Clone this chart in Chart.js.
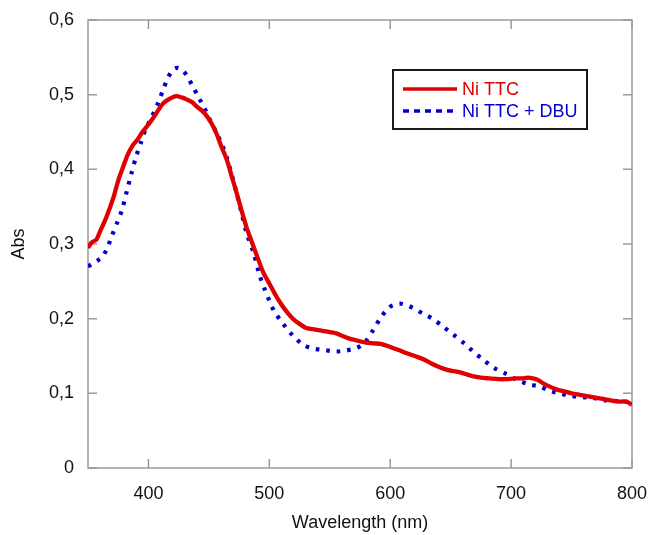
<!DOCTYPE html>
<html>
<head>
<meta charset="utf-8">
<script src="https://cdn.jsdelivr.net/npm/chart.js@4.4.1/dist/chart.umd.min.js"></script>
<style>
  html, body { margin: 0; padding: 0; background: #fff; }
  #wrap { width: 648px; height: 535px; }
</style>
</head>
<body>
<div id="wrap"><canvas id="chart" width="648" height="535"></canvas></div>
<script>
// Ni TTC
const wlRed = [350, 353, 357, 360, 365, 371, 375, 379, 383, 387, 391, 395, 400, 404, 408, 412, 417, 423, 428, 431,
  436, 440, 444, 448, 452, 456, 460, 465, 469, 473, 477, 481, 485, 490, 495, 500, 505, 510, 515, 520,
  525, 530, 536, 543, 550, 556, 560, 565, 572, 580, 586, 593, 600, 607, 613, 620, 627, 634, 641, 648,
  655, 662, 668, 675, 682, 690, 696, 703, 709, 714, 718, 722, 727, 732, 738, 743, 750, 757, 764, 771,
  778, 784, 791, 795, 800];
const absRed = [0.295, 0.302, 0.306, 0.317, 0.335, 0.362, 0.385, 0.403, 0.420, 0.432, 0.440, 0.450, 0.460, 0.469, 0.479, 0.488, 0.494, 0.498, 0.496, 0.494,
  0.490, 0.484, 0.479, 0.472, 0.462, 0.449, 0.432, 0.412, 0.390, 0.368, 0.345, 0.323, 0.305, 0.283, 0.262, 0.247, 0.232, 0.219, 0.208, 0.199,
  0.193, 0.188, 0.186, 0.184, 0.182, 0.180, 0.177, 0.174, 0.171, 0.168, 0.167, 0.166, 0.162, 0.158, 0.154, 0.150, 0.146, 0.140, 0.135, 0.131,
  0.129, 0.126, 0.123, 0.121, 0.120, 0.119, 0.119, 0.120, 0.120, 0.121, 0.120, 0.118, 0.113, 0.109, 0.105, 0.103, 0.100, 0.098, 0.096, 0.094,
  0.092, 0.090, 0.089, 0.089, 0.085];

// Ni TTC + DBU
const wlBlue = [350, 354, 358, 362, 366, 370, 374, 378, 382, 386, 390, 394, 398, 403, 408, 412, 416, 420, 424, 428,
  432, 436, 441, 446, 451, 456, 461, 465, 469, 473, 477, 481, 487, 492, 496, 500, 504, 511, 519, 528,
  536, 546, 554, 562, 571, 576, 580, 586, 592, 599, 604, 609, 614, 619, 628, 635, 644, 652, 662, 668,
  677, 686, 696, 705, 715, 724, 731, 740, 748, 758, 767, 776, 784, 792, 800];
const absBlue = [0.270, 0.274, 0.278, 0.283, 0.295, 0.312, 0.328, 0.345, 0.370, 0.395, 0.418, 0.437, 0.455, 0.471, 0.489, 0.506, 0.522, 0.533, 0.536, 0.533,
  0.525, 0.513, 0.498, 0.483, 0.466, 0.450, 0.432, 0.415, 0.392, 0.368, 0.342, 0.316, 0.288, 0.258, 0.240, 0.224, 0.210, 0.194, 0.178, 0.165,
  0.160, 0.158, 0.156, 0.157, 0.160, 0.164, 0.170, 0.185, 0.201, 0.215, 0.219, 0.220, 0.218, 0.214, 0.206, 0.200, 0.189, 0.179, 0.166, 0.157,
  0.145, 0.134, 0.126, 0.118, 0.112, 0.109, 0.104, 0.100, 0.097, 0.095, 0.094, 0.091, 0.090, 0.089, 0.088];

const seriesNames = ["Ni TTC", "Ni TTC + DBU"];
const xTicks = [400, 500, 600, 700, 800];
const yTicks = [0, 0.1, 0.2, 0.3, 0.4, 0.5, 0.6];

const RED = "#e00000";
const BLUE = "#0000d0";
const AXIS_GREY = "#9a9a9a";
const FONT = "'Liberation Sans', Arial, sans-serif";

function toPoints(xs, ys) {
  return xs.map((x, i) => ({ x: x, y: ys[i] }));
}

function formatAbs(v) {
  if (v === 0) return "0";
  return v.toFixed(1).replace(".", ",");
}

// frame with inward ticks on all four sides, plus the boxed legend
const framePlugin = {
  id: "frame",
  beforeDatasetsDraw(chart) {
    const { ctx, chartArea: a, scales: { x, y } } = chart;
    const len = 9;
    ctx.save();
    ctx.strokeStyle = AXIS_GREY;
    ctx.lineWidth = 1.5;
    ctx.strokeRect(a.left, a.top, a.right - a.left, a.bottom - a.top);
    ctx.beginPath();
    xTicks.forEach(v => {
      const px = x.getPixelForValue(v);
      ctx.moveTo(px, a.bottom); ctx.lineTo(px, a.bottom - len);
      ctx.moveTo(px, a.top); ctx.lineTo(px, a.top + len);
    });
    yTicks.forEach(v => {
      const py = y.getPixelForValue(v);
      ctx.moveTo(a.left, py); ctx.lineTo(a.left + len, py);
      ctx.moveTo(a.right, py); ctx.lineTo(a.right - len, py);
    });
    ctx.stroke();
    ctx.restore();
  },
  afterDatasetsDraw(chart) {
    const ctx = chart.ctx;
    const box = { left: 393, top: 70, width: 194, height: 59 };
    ctx.save();
    ctx.fillStyle = "#fff";
    ctx.fillRect(box.left, box.top, box.width, box.height);
    ctx.strokeStyle = "#1a1a1a";
    ctx.lineWidth = 2;
    ctx.strokeRect(box.left, box.top, box.width, box.height);

    ctx.font = "18px " + FONT;
    ctx.textBaseline = "middle";
    chart.data.datasets.forEach((ds, i) => {
      const rowY = box.top + 19 + i * 22;
      ctx.beginPath();
      ctx.strokeStyle = ds.borderColor;
      ctx.lineWidth = 3.3;
      ctx.setLineDash(i === 0 ? [] : [6, 5]);
      ctx.moveTo(403, rowY);
      ctx.lineTo(457, rowY);
      ctx.stroke();
      ctx.setLineDash([]);
      ctx.fillStyle = ds.borderColor;
      ctx.fillText(ds.label, 462, rowY + 1);
    });
    ctx.restore();
  }
};

const ctx = document.getElementById("chart").getContext("2d");

new Chart(ctx, {
  type: "line",
  data: {
    datasets: [
      {
        label: seriesNames[0],
        data: toPoints(wlRed, absRed),
        borderColor: RED,
        borderWidth: 4.3,
        pointRadius: 0,
        tension: 0.3,
        fill: false
      },
      {
        label: seriesNames[1],
        data: toPoints(wlBlue, absBlue),
        borderColor: BLUE,
        borderWidth: 4.2,
        borderDash: [3.5, 7],
        pointRadius: 0,
        tension: 0.3,
        fill: false
      }
    ]
  },
  options: {
    responsive: false,
    animation: false,
    devicePixelRatio: 1,
    layout: { padding: { top: 20, right: 16, left: 0, bottom: 0 } },
    plugins: {
      legend: { display: false },
      tooltip: { enabled: false }
    },
    scales: {
      x: {
        type: "linear",
        min: 350,
        max: 800,
        grid: { display: false, drawTicks: false },
        border: { display: false },
        afterBuildTicks: axis => { axis.ticks = xTicks.map(v => ({ value: v })); },
        afterFit: axis => { axis.height = 67; axis.paddingLeft = 0; axis.paddingRight = 0; },
        ticks: {
          padding: 15,
          color: "#111",
          font: { family: FONT, size: 18 },
          maxRotation: 0
        },
        title: {
          display: true,
          text: "Wavelength (nm)",
          color: "#111",
          font: { family: FONT, size: 18 },
          padding: { top: 0, bottom: 1 }
        }
      },
      y: {
        min: 0,
        max: 0.6,
        grid: { display: false, drawTicks: false },
        border: { display: false },
        afterBuildTicks: axis => { axis.ticks = yTicks.map(v => ({ value: v })); },
        afterFit: axis => { axis.width = 88; axis.paddingTop = 0; axis.paddingBottom = 0; },
        ticks: {
          padding: 14,
          color: "#111",
          font: { family: FONT, size: 18 },
          callback: v => formatAbs(v)
        },
        title: {
          display: true,
          text: "Abs",
          color: "#111",
          font: { family: FONT, size: 18 },
          padding: { top: 8, bottom: 0 }
        }
      }
    }
  },
  plugins: [framePlugin]
});
</script>
</body>
</html>
